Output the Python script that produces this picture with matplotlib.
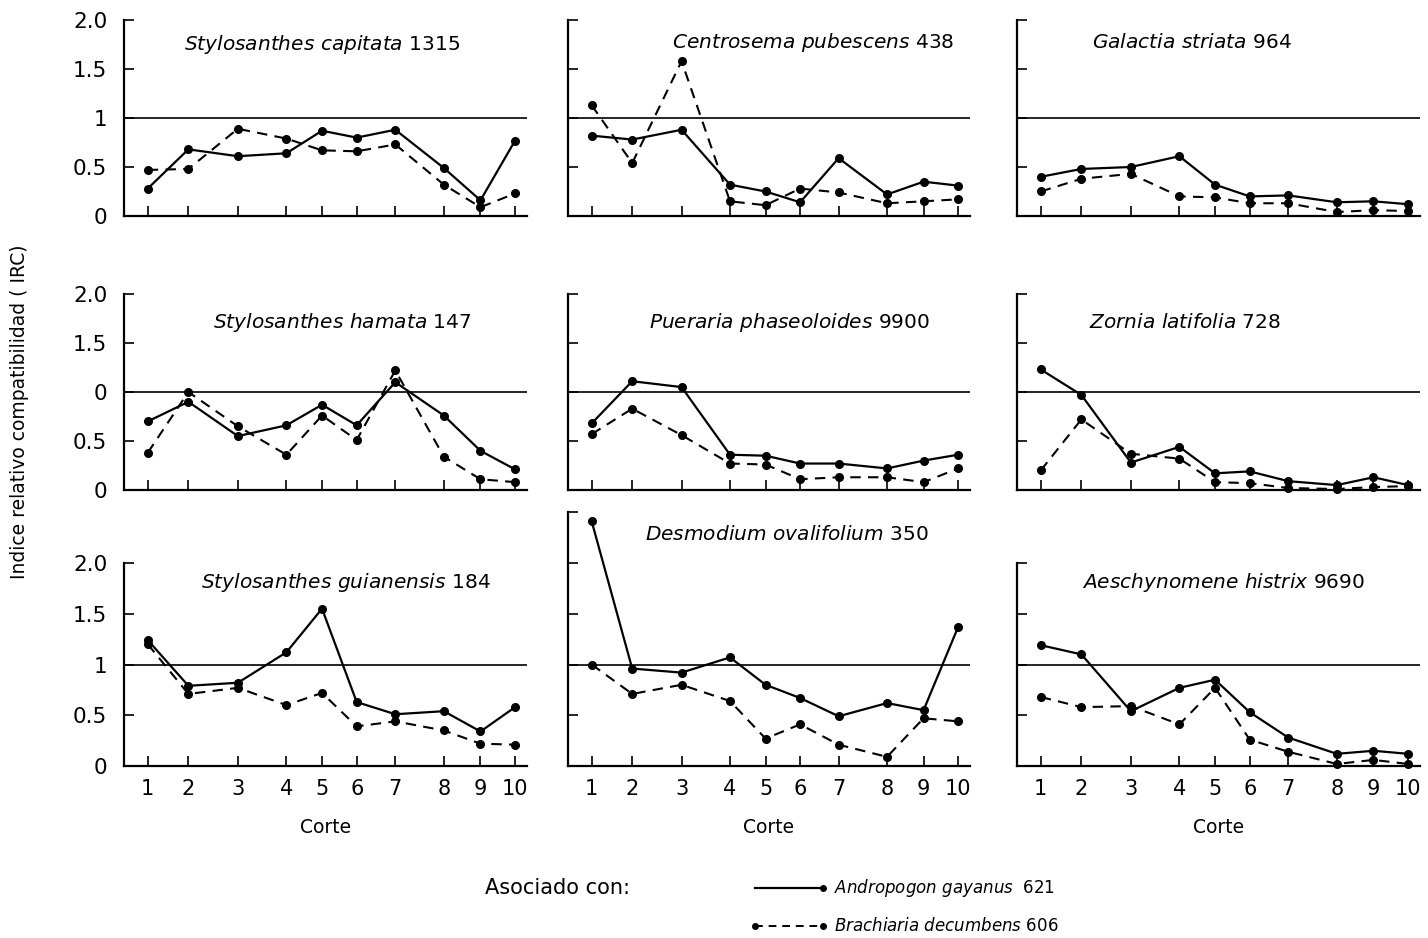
import matplotlib
matplotlib.use("Agg")
import matplotlib.pyplot as plt
from matplotlib.lines import Line2D

plt.rcParams['font.family'] = ['DejaVu Sans']
plt.rcParams['mathtext.fontset'] = 'custom'
plt.rcParams['mathtext.it'] = 'DejaVu Sans:italic'
plt.rcParams['mathtext.rm'] = 'DejaVu Sans'

# cuts (irregular spacing on the time axis)
cortes = ['1', '2', '3', '4', '5', '6', '7', '8', '9', '10']
corte_x = [0, 41, 91, 140, 176, 211, 250, 299, 336, 371]

# legumes, order: row by row
species = ['Stylosanthes capitata', 'Centrosema pubescens', 'Galactia striata',
           'Stylosanthes hamata', 'Pueraria phaseoloides', 'Zornia latifolia',
           'Stylosanthes guianensis', 'Desmodium ovalifolium', 'Aeschynomene histrix']
accessions = ['1315', '438', '964', '147', '9900', '728', '184', '350', '9690']

# IRC with Andropogon gayanus 621 (solid)
andropogon = [
    [0.28, 0.68, 0.61, 0.64, 0.87, 0.80, 0.88, 0.49, 0.16, 0.77],
    [0.82, 0.78, 0.88, 0.32, 0.25, 0.14, 0.59, 0.22, 0.35, 0.31],
    [0.40, 0.48, 0.50, 0.61, 0.32, 0.20, 0.21, 0.14, 0.15, 0.12],
    [0.70, 0.90, 0.55, 0.66, 0.87, 0.66, 1.10, 0.76, 0.40, 0.21],
    [0.68, 1.11, 1.05, 0.36, 0.35, 0.27, 0.27, 0.22, 0.30, 0.36],
    [1.23, 0.97, 0.28, 0.44, 0.17, 0.19, 0.09, 0.05, 0.13, 0.05],
    [1.24, 0.79, 0.82, 1.12, 1.55, 0.63, 0.51, 0.54, 0.34, 0.58],
    [2.41, 0.96, 0.92, 1.07, 0.80, 0.67, 0.49, 0.62, 0.55, 1.37],
    [1.19, 1.10, 0.54, 0.77, 0.85, 0.53, 0.28, 0.12, 0.15, 0.12],
]
# IRC with Brachiaria decumbens 606 (dashed)
brachiaria = [
    [0.47, 0.48, 0.89, 0.79, 0.67, 0.66, 0.73, 0.32, 0.09, 0.23],
    [1.13, 0.54, 1.58, 0.15, 0.11, 0.28, 0.24, 0.13, 0.15, 0.17],
    [0.25, 0.38, 0.43, 0.20, 0.19, 0.13, 0.13, 0.04, 0.06, 0.05],
    [0.38, 1.00, 0.65, 0.36, 0.76, 0.51, 1.22, 0.34, 0.11, 0.08],
    [0.57, 0.83, 0.56, 0.27, 0.26, 0.11, 0.13, 0.13, 0.08, 0.22],
    [0.20, 0.72, 0.37, 0.32, 0.08, 0.07, 0.02, 0.01, 0.03, 0.04],
    [1.20, 0.71, 0.77, 0.60, 0.72, 0.39, 0.44, 0.35, 0.22, 0.21],
    [1.00, 0.71, 0.80, 0.64, 0.27, 0.41, 0.21, 0.09, 0.47, 0.44],
    [0.68, 0.58, 0.59, 0.41, 0.77, 0.26, 0.14, 0.02, 0.06, 0.02],
]

W, H = 1428, 938
fig = plt.figure(figsize=(W / 100, H / 100), dpi=100)

col_x = [(124, 527), (568, 970), (1017, 1420)]
row_y = [(20, 216), (294, 490), (563, 766)]
title_xy = [(322, 45), (813, 43), (1192, 43),
            (342, 323), (790, 323), (1185, 323),
            (346, 582), (787, 535), (1223, 583)]
ylabels_row = [['0', '0.5', '1', '1.5', '2.0'],
               ['0', '0.5', '0', '1.5', '2.0'],
               ['0', '0.5', '1', '1.5', '2.0']]

for i in range(9):
    r, c = divmod(i, 3)
    x0, x1 = col_x[c]
    top, bot = row_y[r]
    ymax = 2.0
    if i == 7:
        ymax = 2.5
        top = bot - (bot - top) * 2.5 / 2.0
    ax = fig.add_axes([x0 / W, 1 - bot / H, (x1 - x0) / W, (bot - top) / H])
    ax.set_xlim(-24, 383)
    ax.set_ylim(0, ymax)
    for s in ['top', 'right']:
        ax.spines[s].set_visible(False)
    for s in ['left', 'bottom']:
        ax.spines[s].set_linewidth(1.6)
        ax.spines[s].set_color('black')
    ax.axhline(1, color='black', lw=1.2, zorder=1)
    ax.plot(corte_x, andropogon[i], '-', color='black', lw=1.6,
            marker='o', ms=5.5, clip_on=False, zorder=3)
    ax.plot(corte_x, brachiaria[i], '--', color='black', lw=1.5, dashes=(5, 3.5),
            marker='o', ms=5.5, clip_on=False, zorder=3)

    ax.set_xticks(corte_x)
    yt = [0, 0.5, 1, 1.5, 2.0] + ([2.5] if ymax > 2 else [])
    ax.set_yticks(yt)
    ax.tick_params(axis='both', direction='in', length=7, width=1.2, colors='black')
    if c == 0:
        ax.set_yticklabels(ylabels_row[r], fontsize=15.5)
        ax.tick_params(axis='y', pad=12)
    else:
        ax.set_yticklabels([])
    if r == 2:
        ax.set_xticklabels(cortes, fontsize=15)
        ax.tick_params(axis='x', pad=9)
        ax.set_xlabel('Corte', fontsize=13.5, labelpad=14)
    else:
        ax.set_xticklabels([])

    tx, ty = title_xy[i]
    name = species[i].replace(' ', r'\ ')
    fig.text(tx / W, 1 - ty / H, '$' + name + '$ ' + accessions[i],
             fontsize=14.5, ha='center', va='center')

fig.text(20 / W, 1 - 412 / H, 'Indice relativo compatibilidad ( IRC)',
         rotation=90, fontsize=13.5, ha='center', va='center')

# legend drawn in pixel coordinates
lg = fig.add_axes([0, 0, 1, 1], facecolor='none')
lg.set_xlim(0, W)
lg.set_ylim(H, 0)
lg.axis('off')
lg.text(485, 888, 'Asociado con:', fontsize=15, va='center', ha='left')
lg.add_line(Line2D([755, 823], [888, 888], color='black', lw=1.6))
lg.plot([823], [888], 'o', color='black', ms=4)
lg.text(834, 888, r'$Andropogon\ gayanus$  621', fontsize=12, va='center', ha='left')
lg.add_line(Line2D([755, 823], [926, 926], color='black', lw=1.4, ls='--', dashes=(4, 3)))
lg.plot([755, 823], [926, 926], 'o', color='black', ms=4)
lg.text(834, 926, r'$Brachiaria\ decumbens$ 606', fontsize=12, va='center', ha='left')

fig.savefig('out.png', dpi=100)
